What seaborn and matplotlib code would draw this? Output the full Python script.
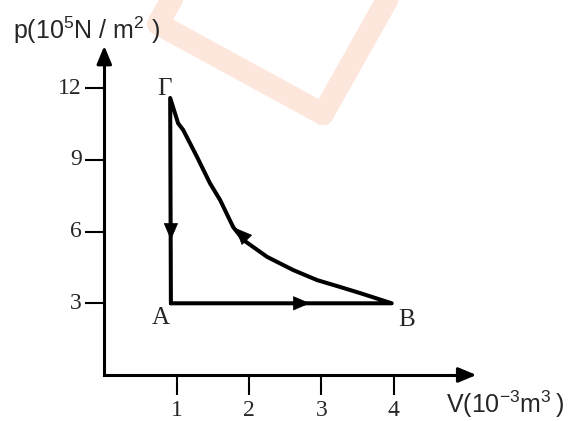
import numpy as np
import pandas as pd
import matplotlib
matplotlib.use("Agg")
import matplotlib.pyplot as plt
import seaborn as sns

# p-V cycle data (V in 10^-3 m^3, p in 10^5 N/m^2)
v_ab = [0.92, 3.97]          # A -> B isobaric
p_ab = [3.0, 3.0]
v_bg = [3.97, 3.53, 3.26, 2.94, 2.61, 2.25, 1.92, 1.78, 1.60, 1.46, 1.28, 1.09, 1.02, 0.91]
p_bg = [3.00, 3.43, 3.68, 3.97, 4.39, 4.94, 5.65, 6.19, 7.32, 8.02, 9.13, 10.25, 10.53, 11.59]
v_ga = [0.91, 0.92]          # Γ -> A isochoric
p_ga = [11.59, 3.0]

x_ticks = [1, 2, 3, 4]
y_ticks = [3, 6, 9, 12]

point_names = ["A", "B", "Γ"]
point_v = [0.785, 4.18, 0.83]
point_p = [2.38, 2.30, 11.95]

# direction arrows: tip and a point behind it
arrow_tip = [(0.92, 5.65), (2.84, 3.0), (1.81, 6.15)]
arrow_from = [(0.92, 6.3), (2.6, 3.0), (1.97, 5.65)]

sns.set_style("white")
plt.rcParams["font.family"] = ["Liberation Serif", "DejaVu Serif"]
plt.rcParams["mathtext.fontset"] = "custom"
plt.rcParams["mathtext.rm"] = "Liberation Sans"
plt.rcParams["mathtext.default"] = "regular"

fig = plt.figure(figsize=(5.74, 4.21), dpi=100)
ax = fig.add_axes([0, 0, 1, 1])
ax.set_xlim(-1.4406, 6.488)
ax.set_ylim(-1.925, 15.69)
ax.axis("off")

# faint watermark (rotated square outline) behind everything
sq_px = np.array([[323, 114], [158, 24], [249, -138], [414, -48], [323, 114]], dtype=float)
ax.plot(sq_px[:, 0] / 574, 1 - sq_px[:, 1] / 421, transform=fig.transFigure,
        color="#fde7dc", lw=16, solid_joinstyle="round", clip_on=False, zorder=0)

# axes with arrows
ax.plot([5.0, 0, 0], [0, 0, 13.6], color="black", lw=2.2, solid_joinstyle="miter", zorder=2)
head = dict(arrowstyle="-|>,head_length=0.6,head_width=0.25", mutation_scale=18,
            color="black", lw=2.2, shrinkA=0, shrinkB=0)
ax.annotate("", xy=(5.14, 0), xytext=(4.9, 0), arrowprops=head)
ax.annotate("", xy=(0, 13.77), xytext=(0, 13.3), arrowprops=head)

# ticks
ax.vlines(x_ticks, -0.84, 0, color="black", lw=1.5)
ax.hlines(y_ticks, -0.262, 0, color="black", lw=1.5)
for xv in x_ticks:
    ax.text(xv, -1.05, str(xv), ha="center", va="top", fontsize=17)
for yv in y_ticks:
    ax.text(-0.308, yv, str(yv), ha="right", va="center", fontsize=17)

ax.text(-1.26, 14.06, r"p(10$^5$N / m$^2$ )", ha="left", va="baseline", fontsize=18,
        family="Liberation Sans")
ax.text(4.72, -1.58, r"V(10$^{-3}$m$^{3}\,$)", ha="left", va="baseline", fontsize=18,
        family="Liberation Sans")

# cycle
cycle = pd.DataFrame({
    "V": v_ab + v_bg[1:] + v_ga[1:],
    "p": p_ab + p_bg[1:] + p_ga[1:],
})
sns.lineplot(data=cycle, x="V", y="p", sort=False, estimator=None, ax=ax,
             color="black", lw=2.9, zorder=3)
for line in ax.lines[-1:]:
    line.set_solid_joinstyle("round")
    line.set_solid_capstyle("round")

small_head = dict(arrowstyle="-|>,head_length=0.7,head_width=0.3", mutation_scale=16,
                  color="black", lw=0.5, shrinkA=0, shrinkB=0)
for tip, frm in zip(arrow_tip, arrow_from):
    ax.annotate("", xy=tip, xytext=frm, arrowprops=small_head, zorder=4)

for name, vv, pp in zip(point_names, point_v, point_p):
    ax.text(vv, pp, name, ha="center", va="center", fontsize=18)

ax.set_xlabel("")
ax.set_ylabel("")
fig.savefig("out.png", dpi=100, facecolor="white")
